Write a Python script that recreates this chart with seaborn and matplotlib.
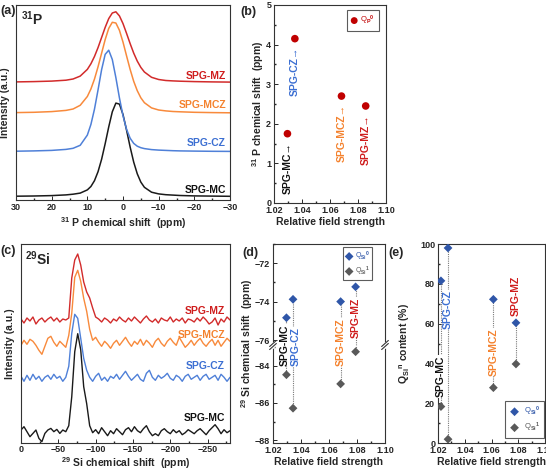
import matplotlib
matplotlib.use('Agg')
import matplotlib.pyplot as plt
import seaborn as sns

# ---------------- data ----------------
samples = ['SPG-MC', 'SPG-CZ', 'SPG-MCZ', 'SPG-MZ']
# relative field strength as placed in each panel
field_b = [1.0296, 1.0349, 1.0682, 1.0855]
field_d = [1.0296, 1.0343, 1.0683, 1.0790]
field_e = [1.0222, 1.0275, 1.0614, 1.0783]

# (a) 31P spectra, intensity above each baseline (a.u.)
p_shift = [30, 25, 20, 16, 14, 12, 10, 9, 8, 7, 6, 5, 4, 3, 2, 1, 0,
           -1, -2, -3, -4, -5, -6, -8, -10, -12, -14, -16, -20, -25, -30]
p_mc = [0.5, 0.7, 1.1, 1.8, 2.5, 3.6, 6.8, 10.2, 16.0, 25.0, 37.4, 53.0, 69.8, 84.9, 93.6, 92.6, 82.2,
        66.5, 49.7, 34.6, 22.9, 14.6, 9.4, 4.5, 2.8, 2.0, 1.6, 1.2, 0.8, 0.6, 0.4]
p_cz = [0.5, 0.8, 1.3, 2.3, 3.4, 6.4, 16.6, 27.2, 42.5, 61.8, 82.0, 97.3, 101.5, 92.2, 74.1, 53.8, 35.9,
        22.4, 13.5, 8.3, 5.5, 4.0, 3.1, 2.1, 1.6, 1.3, 1.0, 0.8, 0.6, 0.4, 0.3]
p_mcz = [0.7, 1.0, 1.7, 2.9, 4.3, 8.0, 16.8, 24.3, 34.2, 46.5, 60.1, 73.7, 84.9, 91.0, 90.3, 83.0, 71.2,
         57.4, 43.9, 32.0, 22.6, 15.5, 10.6, 5.4, 3.3, 2.4, 1.8, 1.5, 1.0, 0.7, 0.5]
p_mz = [0.6, 0.9, 1.4, 2.3, 3.5, 6.4, 13.1, 18.7, 26.0, 34.9, 45.0, 55.1, 63.9, 69.5, 70.7, 66.6, 58.9,
        49.1, 38.9, 29.4, 21.4, 15.1, 10.5, 5.2, 3.0, 2.0, 1.6, 1.3, 0.9, 0.6, 0.4]

# (c) 29Si spectra, intensity above each baseline (a.u.)
si_shift = [0, -4, -8, -12, -16, -20, -24, -28, -32, -36, -40, -44, -48, -52, -56, -60,
            -64, -68, -72, -76, -80, -84, -88, -92, -96, -100, -104, -108, -112, -116, -120,
            -124, -128, -132, -136, -140, -144, -148, -152, -156, -160, -164, -168, -172, -176,
            -180, -184, -188, -192, -196, -200, -204, -208, -212, -216, -220, -224, -228, -232,
            -236, -240, -244, -248, -252, -256, -260, -264, -268, -272, -276, -280]
si_mc = [1.7, 5, 0, -5, -1.7, 1.7, -6.7, -10, -1.7, 1.7, 3.3, 0, 2.3, -1.7, 1.7, 0,
         6, 35, 80, 98, 82, 45, 28, 6, -1, 2, -2, 4, 0, -4, 1,
         -2, 3, 0, -3, 2, 4, 0, 5, 1, -1, 3, 6, 0, -4,
         -2, -4, 1, 3, 0, -2, 2, -1, 1, -3, -1, 2, 0, -2,
         1, 3, 0, -3, 1, 4, 7, 3, -2, 2, -1, 1]
si_cz = [2, -3, 3, -2, 4, -1, 2, -3, 1, 3, -1, 4, 0, 2, -3, 1,
         12, 45, 64, 60, 40, 20, 8, 1, -3, 2, 5, -2, 1, -3, 2,
         0, 4, -1, 3, 7, 2, -2, 1, 4, -1, -3, 5, 8, 1,
         -2, 3, 0, 2, 5, 0, -2, 3, 1, -3, 2, 4, -1, 1,
         3, -2, 2, 4, -1, 1, 3, -2, 4, 1, -3, 1]
si_mcz = [-2, 3, -1, 4, 2, -2, -7, -11, -3, 5, 7, 1, -3, 2, -1, -4,
          8, 30, 66, 73, 62, 45, 32, 14, 3, 6, 1, -3, 2, -1, -5,
          0, 3, -2, 2, 6, 1, -3, 2, -1, 4, -2, 3, 0, -4,
          2, 5, 0, -3, 2, 5, 1, -2, 6, 1, -4, -1, 3, -2,
          2, 5, 0, -3, 1, 4, -2, 3, -3, 1, 5, 2]
si_mz = [1, -3, 2, -1, 3, -4, 0, 2, -2, 1, 3, -1, 2, -2, 1, 0,
         2, 42, 60, 66, 55, 38, 28, 22, 12, 3, 1, -2, 2, 0, -3,
         1, -1, 3, 0, -2, 2, -1, 3, 0, -3, 1, 4, 0, -2,
         1, -3, 2, 0, -1, 3, -2, 1, -1, 2, -3, 1, 0, -2,
         2, -1, 3, 0, -4, -2, 2, -5, 1, -2, 3, 0]

# (b) 31P Qp0 chemical shift (ppm)
p_q0_shift = [1.75, 4.15, 2.70, 2.45]
# (d) 29Si chemical shifts (ppm)
si_q0_shift = [-74.84, -73.88, -74.00, -73.23]
si_q1_shift = [-84.49, -86.28, -84.98, -83.26]
# (e) Qsi^n content (%)
q0_content = [81.5, 98.0, 72.2, 60.4]
q1_content = [18.3, 1.9, 27.8, 39.7]

# ---------------- style ----------------
sns.set_theme(style='ticks')
plt.rcParams['font.family'] = ['Liberation Sans', 'DejaVu Sans']
plt.rcParams.update({
    'font.weight': 'bold',
    'axes.labelweight': 'bold',
    'axes.labelsize': 7.5,
    'axes.linewidth': 0.8,
    'axes.edgecolor': '#333333',
    'xtick.direction': 'in', 'ytick.direction': 'in',
    'xtick.labelsize': 6.5, 'ytick.labelsize': 6.5,
    'xtick.major.size': 3, 'ytick.major.size': 3,
    'xtick.minor.size': 1.5, 'ytick.minor.size': 1.5,
    'xtick.major.width': 0.7, 'ytick.major.width': 0.7,
    'xtick.major.pad': 2.5, 'ytick.major.pad': 2,
    'mathtext.fontset': 'custom',
    'mathtext.rm': 'Liberation Sans',
    'mathtext.bf': 'Liberation Sans:bold',
    'mathtext.it': 'Liberation Sans:italic',
})

col_txt = {'SPG-MC': '#111111', 'SPG-CZ': '#3c6fd2', 'SPG-MCZ': '#f4822e', 'SPG-MZ': '#cf1d1d'}
col_line = {'SPG-MC': '#1a1a1a', 'SPG-CZ': '#4f80d8', 'SPG-MCZ': '#f88a3c', 'SPG-MZ': '#d22b2b'}
c_qp = '#c00000'
c_q0 = '#2f56a8'
c_q1 = '#595959'
c_drop = '#7a7a7a'

W, H = 546, 469
fig = plt.figure(figsize=(W / 100, H / 100), dpi=100)


def box(l, t, r, b):
    return [l / W, 1 - b / H, (r - l) / W, (b - t) / H]


def style_legend(leg, colors):
    leg.get_frame().set_edgecolor('#333333')
    leg.get_frame().set_linewidth(0.8)
    for t, c in zip(leg.get_texts(), colors):
        t.set_color(c)


def field_axis(ax):
    ax.set_xlim(1.02, 1.10)
    ax.set_xticks([1.02, 1.04, 1.06, 1.08, 1.10])
    ax.set_xticks([1.03, 1.05, 1.07, 1.09], minor=True)


# ---------------- (a) ----------------
ax_a = fig.add_axes(box(16, 5, 230, 200))
p_sets = [p_mc, p_cz, p_mcz, p_mz]
p_off = [3.3, 48.3, 86.7, 117.5]
for name, vals, off in zip(samples, p_sets, p_off):
    sns.lineplot(x=p_shift, y=[v + off for v in vals], ax=ax_a, color=col_line[name], lw=1.1)
ax_a.set_xlim(30, -30)
ax_a.set_ylim(0, 195)
ax_a.set_xticks([30, 20, 10, 0, -10, -20, -30])
ax_a.set_xticks(range(-30, 31, 5), minor=True)
ax_a.set_yticks([])
ax_a.set_xlabel(r'$^{\mathbf{31}}$ P chemical shift  (ppm)')
ax_a.set_ylabel('Intensity (a.u.)')
ax_a.xaxis.set_label_coords(0.5, -0.08)
ax_a.yaxis.set_label_coords(-0.028, 0.5)
for name, yf in zip(samples, [0.051, 0.292, 0.487, 0.636]):
    ax_a.text(0.981, yf, name, transform=ax_a.transAxes, ha='right', va='center',
              color=col_txt[name], fontsize=7.5, fontweight='bold')
ax_a.text(0.025, 0.975, r'$^{\mathbf{31}}$P', transform=ax_a.transAxes, ha='left', va='top',
          fontsize=10, fontweight='bold')

# ---------------- (b) ----------------
ax_b = fig.add_axes(box(274, 5, 386, 203))
sns.scatterplot(x=field_b, y=p_q0_shift, ax=ax_b, color=c_qp, s=30, edgecolor='none',
                label=r'Q$_{\mathrm{P}}$$^{\mathrm{0}}$')
field_axis(ax_b)
ax_b.set_ylim(0, 5)
ax_b.set_yticks([0, 1, 2, 3, 4, 5])
ax_b.set_yticks([0.5, 1.5, 2.5, 3.5, 4.5], minor=True)
ax_b.set_xlabel('Relative field strength')
ax_b.set_ylabel(r'$^{\mathbf{31}}$ P chemical shift  (ppm)')
ax_b.xaxis.set_label_coords(0.5, -0.07)
ax_b.yaxis.set_label_coords(-0.075, 0.5)
for name, x, y in zip(samples, field_b, p_q0_shift):
    ax_b.annotate(name + '\u2192', (x, y), xytext=(0, -6), textcoords='offset points',
                  rotation=90, ha='center', va='top', color=col_txt[name],
                  fontsize=7.5, fontweight='bold')
leg = ax_b.legend(loc='upper right', bbox_to_anchor=(0.935, 0.975), borderaxespad=0,
                  frameon=True, fancybox=False, handletextpad=0.3, borderpad=0.5,
                  handlelength=1.0, markerscale=0.9, prop={'weight': 'normal', 'size': 5.5})
style_legend(leg, [c_qp])

# ---------------- (c) ----------------
ax_c = fig.add_axes(box(21, 244, 230, 443))
si_sets = [si_mc, si_cz, si_mcz, si_mz]
si_off = [11.3, 64.7, 99.7, 123]
for name, vals, off in zip(samples, si_sets, si_off):
    sns.lineplot(x=si_shift, y=[v + off for v in vals], ax=ax_c, color=col_line[name], lw=1.0)
ax_c.set_xlim(0, -280)
ax_c.set_ylim(0, 199)
ax_c.set_xticks([0, -50, -100, -150, -200, -250])
ax_c.set_xticks(range(-275, 1, 25), minor=True)
ax_c.set_yticks([])
ax_c.tick_params(axis='x', pad=1.5)
ax_c.set_xlabel(r'$^{\mathbf{29}}$ Si chemical shift  (ppm)')
ax_c.set_ylabel('Intensity (a.u.)')
ax_c.xaxis.set_label_coords(0.5, -0.063)
ax_c.yaxis.set_label_coords(-0.029, 0.5)
for name, yf in zip(samples, [0.124, 0.387, 0.543, 0.665]):
    ax_c.text(0.976, yf, name, transform=ax_c.transAxes, ha='right', va='center',
              color=col_txt[name], fontsize=7.5, fontweight='bold')
ax_c.text(0.02, 0.975, r'$^{\mathbf{29}}$Si', transform=ax_c.transAxes, ha='left', va='top',
          fontsize=10, fontweight='bold')

# ---------------- (d) broken axis ----------------
ax_d2 = fig.add_axes(box(273, 345, 385, 443))
ax_d1 = fig.add_axes(box(273, 244, 385, 345))
ax_d1.set_zorder(3)
ax_d1.patch.set_visible(False)
ax_d1.vlines(field_d, -76.26, si_q0_shift, colors=c_drop, linestyles=(0, (1, 1)), lw=0.8)
ax_d2.vlines(field_d, si_q1_shift, -82.9, colors=c_drop, linestyles=(0, (1, 1)), lw=0.8)
sns.scatterplot(x=field_d, y=si_q0_shift, ax=ax_d1, marker='D', s=20, color=c_q0,
                edgecolor='none', label=r'Q$_{\mathrm{Si}}$$^{\mathrm{0}}$', zorder=4)
sns.scatterplot(x=field_d, y=si_q1_shift, ax=ax_d2, marker='D', s=20, color=c_q1,
                edgecolor='none', zorder=4)
# the Q1 entry of the legend (point lies outside the upper axis range)
sns.scatterplot(x=[1.0], y=[-80.0], ax=ax_d1, marker='D', s=20, color=c_q1, edgecolor='none',
                label=r'Q$_{\mathrm{Si}}$$^{\mathrm{1}}$')
ax_d1.set_ylim(-76.26, -71)
ax_d2.set_ylim(-88.14, -82.9)
field_axis(ax_d1)
field_axis(ax_d2)
ax_d1.set_yticks([-72, -74, -76])
ax_d1.set_yticks([-71, -73, -75], minor=True)
ax_d2.set_yticks([-84, -86, -88])
ax_d2.set_yticks([-83, -85, -87], minor=True)
ax_d1.spines['bottom'].set_visible(False)
ax_d2.spines['top'].set_visible(False)
ax_d1.tick_params(axis='x', which='both', bottom=False, labelbottom=False)
ax_d2.set_xlabel('Relative field strength')
ax_d2.xaxis.set_label_coords(0.5, -0.143)
fig.text(247 / W, 1 - 343.5 / H, r'$^{\mathbf{29}}$ Si chemical shift  (ppm)', rotation=90,
         ha='center', va='center', fontsize=7.5, fontweight='bold')
# break marks
for xa in (0, 1):
    ax_d1.plot([xa, xa], [-0.02, 0.02], transform=ax_d1.transAxes, color='white', lw=2,
               clip_on=False, zorder=5)
    for dy in (-0.015, 0.015):
        ax_d1.plot([xa - 0.03, xa + 0.03], [dy - 0.03, dy + 0.03], transform=ax_d1.transAxes,
                   color='#333333', lw=0.8, clip_on=False, zorder=6)
d_lab = [(1.0284, 0.0), (1.0364, -0.02), (1.0683, 0.025), (1.0790, 0.27)]
for name, (x, yf) in zip(samples, d_lab):
    ax_d1.text(x, yf, name, transform=ax_d1.get_xaxis_transform(), rotation=90, ha='center',
               va='center', color=col_txt[name], fontsize=7.5, fontweight='bold', clip_on=False,
               zorder=6, bbox=dict(facecolor='white', edgecolor='none', pad=0.3))
leg = ax_d1.legend(loc='upper right', bbox_to_anchor=(0.885, 0.97), borderaxespad=0,
                   frameon=True, fancybox=False, handletextpad=0.3, borderpad=0.35,
                   handlelength=1.0, labelspacing=0.25, prop={'weight': 'normal', 'size': 5})
style_legend(leg, [c_q0, c_q1])

# ---------------- (e) ----------------
ax_e = fig.add_axes(box(438, 244, 545, 443))
ax_e.vlines(field_e, q1_content, q0_content, colors=c_drop, linestyles=(0, (1, 1)), lw=0.8)
sns.scatterplot(x=field_e, y=q0_content, ax=ax_e, marker='D', s=20, color=c_q0,
                edgecolor='none', label=r'Q$_{\mathrm{Si}}$$^{\mathrm{0}}$', zorder=4)
sns.scatterplot(x=field_e, y=q1_content, ax=ax_e, marker='D', s=20, color=c_q1,
                edgecolor='none', label=r'Q$_{\mathrm{Si}}$$^{\mathrm{1}}$', zorder=4)
field_axis(ax_e)
ax_e.set_ylim(0, 100)
ax_e.set_yticks([0, 20, 40, 60, 80, 100])
ax_e.set_yticks([10, 30, 50, 70, 90], minor=True)
ax_e.set_xlabel('Relative field strength')
ax_e.set_ylabel(r'Q$_{\mathbf{Si}}$$^{\mathbf{n}}$ content (%)')
ax_e.xaxis.set_label_coords(0.5, -0.07)
ax_e.yaxis.set_label_coords(-0.245, 0.5)
e_lab = [33.4, 66.9, 45.8, 74.0]
for name, x, y in zip(samples, field_e, e_lab):
    ax_e.text(x, y, name, rotation=90, ha='center', va='center', color=col_txt[name],
              fontsize=7.5, fontweight='bold', zorder=6,
              bbox=dict(facecolor='white', edgecolor='none', pad=0.3))
leg = ax_e.legend(loc='lower right', bbox_to_anchor=(0.995, 0.025), borderaxespad=0,
                  frameon=True, fancybox=False, handletextpad=0.5, borderpad=0.5,
                  handlelength=1.6, labelspacing=0.35, prop={'weight': 'normal', 'size': 5.5})
style_legend(leg, [c_q0, c_q1])

# panel letters
for lab, x, y in [('(a)', 0, 11), ('(b)', 240, 12), ('(c)', 0, 251), ('(d)', 242, 253), ('(e)', 388, 253)]:
    fig.text(x / W, 1 - y / H, lab, ha='left', va='center', fontsize=9, fontweight='bold')

fig.savefig('out.png', dpi=100)
